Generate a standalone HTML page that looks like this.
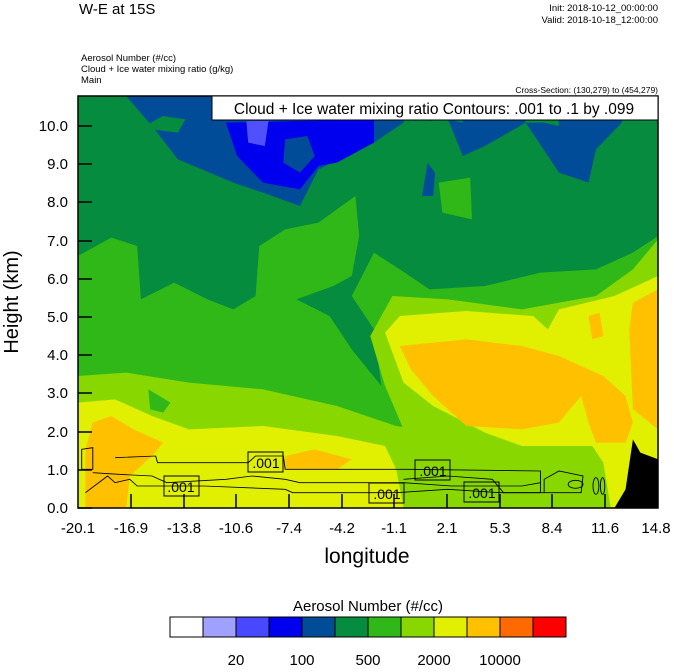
<!DOCTYPE html>
<html><head><style>
body{margin:0;background:#fff;}
svg text{font-family:"Liberation Sans",sans-serif;}
</style></head><body>
<svg width="674" height="667" viewBox="0 0 674 667" xmlns="http://www.w3.org/2000/svg">
<rect width="674" height="667" fill="#fff"/>
<text x="79" y="14" font-size="15">W-E at 15S</text>
<text x="658" y="11" font-size="9.5" text-anchor="end">Init: 2018-10-12_00:00:00</text>
<text x="658" y="23" font-size="9.5" text-anchor="end">Valid: 2018-10-18_12:00:00</text>
<text x="81" y="61" font-size="9.5">Aerosol Number   (#/cc)</text>
<text x="81" y="72" font-size="9.5">Cloud + Ice water mixing ratio   (g/kg)</text>
<text x="81" y="83" font-size="9.5">Main</text>
<text x="658" y="93" font-size="8.5" text-anchor="end">Cross-Section: (130,279) to (454,279)</text>
<defs><clipPath id="c"><rect x="78" y="96" width="580" height="412"/></clipPath></defs>
<g clip-path="url(#c)">
<g transform="translate(78,96) scale(0.36996,0.33333)">
<rect x="0" y="0" width="1568" height="1236" fill="#068c3e"/>
<polygon fill="#004c99" points="130,0 1480,0 1470,80 1400,160 1380,260 1300,230 1210,80 1100,150 1040,180 1000,70 880,80 800,140 650,220 600,330 500,290 420,260 270,190 200,90"/>
<polygon fill="#068c3e" points="180,90 230,60 290,70 270,110 200,100"/>
<polygon fill="#068c3e" points="880,0 1030,0 1040,80 1000,70 880,80"/>
<polygon fill="#068c3e" points="1200,0 1290,0 1300,90 1260,80 1210,80"/>
<polygon fill="#004c99" points="930,300 945,200 965,230 960,300"/>
<polygon fill="#0000ee" points="400,80 800,70 800,140 700,200 650,210 600,280 500,260 430,180"/>
<polygon fill="#004c99" points="560,130 620,120 640,180 600,230 555,200"/>
<polygon fill="#5050ff" points="455,75 515,75 505,150 460,140"/>
<polygon fill="#30b818" points="975,260 1060,245 1065,370 985,350"/>
<polygon fill="#30b818" points="0,480 90,425 160,450 170,610 260,560 350,610 420,640 480,600 490,450 560,400 650,380 750,300 760,420 740,540 690,570 590,610 680,660 740,760 820,870 800,700 740,600 800,470 870,520 950,580 1100,570 1250,530 1400,520 1500,470 1568,420 1568,1236 0,1236"/>
<polygon fill="#88d800" points="0,840 130,830 300,860 500,880 700,930 860,990 1100,1030 1100,1050 880,1000 830,870 790,720 850,600 1000,610 1200,640 1400,600 1500,520 1568,430 1568,1236 0,1236"/>
<polygon fill="#30b818" points="190,880 250,920 230,950 195,940"/>
<polygon fill="#e0f000" points="0,920 100,910 200,960 300,1000 500,990 700,1020 830,1050 860,1120 880,1236 0,1236"/>
<polygon fill="#e0f000" points="830,710 870,660 1050,645 1230,660 1270,700 1300,640 1450,600 1568,540 1568,1236 1440,1236 1420,1100 1390,1050 1200,1050 1100,1010 960,930 880,860"/>
<polygon fill="#ffc000" points="870,750 960,740 1050,730 1200,750 1300,780 1380,820 1420,840 1480,900 1500,980 1480,1040 1400,1040 1380,980 1360,900 1300,980 1200,1000 1050,990 960,900 900,820"/>
<polygon fill="#ffc000" points="1500,620 1568,580 1568,1000 1500,940 1490,700"/>
<polygon fill="#ffc000" points="1380,660 1410,650 1420,720 1390,730"/>
<polygon fill="#ffc000" points="40,980 90,960 150,1000 230,1040 200,1080 140,1140 130,1236 20,1236 20,1060"/>
<polygon fill="#ffc000" points="560,1080 640,1060 740,1090 700,1120 560,1120"/>
<polygon fill="#000" points="1450,1236 1480,1180 1500,1030 1520,1070 1568,1090 1568,1236"/>
<g fill="none" stroke="#000" stroke-width="2.5">
<path d="M10,1060 L40,1055 L40,1120 L10,1120 Z"/>
<path d="M100,1085 L210,1080 L215,1100 L460,1100 L480,1080 L555,1080 L560,1120 L890,1120 L1250,1125 L1250,1190 L1150,1190 L1120,1150 L1000,1140 L880,1150"/>
<path d="M40,1130 L110,1135 L200,1140 L240,1160 L400,1150 L470,1140 L560,1150 L600,1160 L880,1160 L1010,1170 L1200,1170 L1250,1160"/>
<path d="M20,1190 L80,1140 L100,1160 L140,1150 L160,1170 L340,1170 L560,1180 L580,1190 L860,1190 L1000,1180 L1140,1190 L1360,1190 L1365,1140 L1300,1125 L1260,1150 L1260,1190"/>
<ellipse cx="1400" cy="1170" rx="8" ry="25"/><ellipse cx="1418" cy="1170" rx="6" ry="25"/>
<ellipse cx="1345" cy="1165" rx="20" ry="12"/>
</g>
</g>
<g font-size="14" text-anchor="middle">
<rect x="164" y="476" width="35" height="20" fill="none" stroke="#000"/><text x="181" y="492">.001</text>
<rect x="248" y="452" width="35" height="20" fill="none" stroke="#000"/><text x="266" y="468">.001</text>
<rect x="415" y="460" width="35" height="20" fill="none" stroke="#000"/><text x="433" y="476">.001</text>
<rect x="369" y="483" width="35" height="20" fill="none" stroke="#000"/><text x="387" y="499">.001</text>
<rect x="464" y="482" width="35" height="20" fill="none" stroke="#000"/><text x="482" y="498">.001</text>
</g>
</g>
<rect x="78" y="96" width="580" height="412" fill="none" stroke="#000" stroke-width="1.5"/>
<rect x="212" y="96" width="446" height="24" fill="#fff" stroke="#000"/>
<text x="434" y="114" font-size="15.5" text-anchor="middle">Cloud + Ice water mixing ratio Contours: .001 to .1 by .099</text>
<g stroke="#000" stroke-width="1.5">
<line x1="78" y1="508" x2="92" y2="508"/><line x1="78" y1="470" x2="92" y2="470"/><line x1="78" y1="432" x2="92" y2="432"/><line x1="78" y1="393" x2="92" y2="393"/><line x1="78" y1="355" x2="92" y2="355"/><line x1="78" y1="317" x2="92" y2="317"/><line x1="78" y1="279" x2="92" y2="279"/><line x1="78" y1="241" x2="92" y2="241"/><line x1="78" y1="202" x2="92" y2="202"/><line x1="78" y1="164" x2="92" y2="164"/><line x1="78" y1="126" x2="92" y2="126"/>
</g>
<g font-size="15" text-anchor="end">
<text x="68" y="513">0.0</text><text x="68" y="475">1.0</text><text x="68" y="437">2.0</text><text x="68" y="398">3.0</text><text x="68" y="360">4.0</text><text x="68" y="322">5.0</text><text x="68" y="284">6.0</text><text x="68" y="246">7.0</text><text x="68" y="207">8.0</text><text x="68" y="169">9.0</text><text x="68" y="131">10.0</text>
</g>
<g stroke="#000" stroke-width="1.5">
<line x1="131" y1="508" x2="131" y2="494"/><line x1="184" y1="508" x2="184" y2="494"/><line x1="236" y1="508" x2="236" y2="494"/><line x1="289" y1="508" x2="289" y2="494"/><line x1="342" y1="508" x2="342" y2="494"/><line x1="394" y1="508" x2="394" y2="494"/><line x1="447" y1="508" x2="447" y2="494"/><line x1="500" y1="508" x2="500" y2="494"/><line x1="552" y1="508" x2="552" y2="494"/><line x1="605" y1="508" x2="605" y2="494"/>
</g>
<g font-size="15" text-anchor="middle">
<text x="78" y="533">-20.1</text><text x="131" y="533">-16.9</text><text x="184" y="533">-13.8</text><text x="236" y="533">-10.6</text><text x="289" y="533">-7.4</text><text x="342" y="533">-4.2</text><text x="394" y="533">-1.1</text><text x="447" y="533">2.1</text><text x="500" y="533">5.3</text><text x="552" y="533">8.4</text><text x="605" y="533">11.6</text><text x="656" y="533">14.8</text>
</g>
<text x="367" y="563" font-size="21" text-anchor="middle">longitude</text>
<text transform="translate(18,302) rotate(-90)" font-size="20" text-anchor="middle">Height (km)</text>
<text x="368" y="611" font-size="15" text-anchor="middle">Aerosol Number  (#/cc)</text>
<g stroke="#000" stroke-width="1">
<rect x="170" y="617" width="33" height="20" fill="#ffffff"/><rect x="203" y="617" width="33" height="20" fill="#a0a0ff"/><rect x="236" y="617" width="33" height="20" fill="#4848ff"/><rect x="269" y="617" width="33" height="20" fill="#0000ee"/><rect x="302" y="617" width="33" height="20" fill="#004c99"/><rect x="335" y="617" width="33" height="20" fill="#068c3e"/><rect x="368" y="617" width="33" height="20" fill="#30b818"/><rect x="401" y="617" width="33" height="20" fill="#88d800"/><rect x="434" y="617" width="33" height="20" fill="#e0f000"/><rect x="467" y="617" width="33" height="20" fill="#ffc000"/><rect x="500" y="617" width="33" height="20" fill="#ff6a00"/><rect x="533" y="617" width="33" height="20" fill="#ff0000"/>
</g>
<g font-size="15" text-anchor="middle">
<text x="236" y="665">20</text><text x="302" y="665">100</text><text x="368" y="665">500</text><text x="434" y="665">2000</text><text x="500" y="665">10000</text>
</g>
</svg>
</body></html>
